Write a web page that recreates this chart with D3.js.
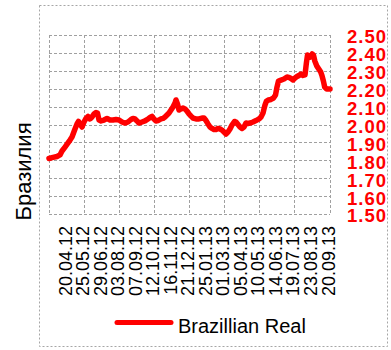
<!DOCTYPE html>
<html>
<head>
<meta charset="utf-8">
<script src="https://cdn.jsdelivr.net/npm/d3@7"></script>
<style>
  html, body { margin: 0; padding: 0; background: #fff; }
  svg { display: block; }
</style>
</head>
<body>
<svg id="chart" width="391" height="350"></svg>
<script>
// BRL exchange rate, Mar 2012 – Sep 2013
const seriesName = "Brazillian Real";
const axisTitle = "Бразилия";

const dates = [
  "2012-03-16","2012-03-24","2012-04-01","2012-04-07","2012-04-11","2012-04-17","2012-04-23","2012-04-27",
  "2012-05-01","2012-05-07","2012-05-11","2012-05-14","2012-05-17","2012-05-21","2012-05-25","2012-05-29",
  "2012-06-02","2012-06-06","2012-06-10","2012-06-14","2012-06-18","2012-06-21","2012-06-24","2012-06-28",
  "2012-07-04","2012-07-10","2012-07-16","2012-07-22","2012-07-28","2012-08-03","2012-08-09","2012-08-15",
  "2012-08-21","2012-08-27","2012-08-31","2012-09-04","2012-09-08","2012-09-12","2012-09-18","2012-09-24",
  "2012-09-30","2012-10-04","2012-10-08","2012-10-12","2012-10-16","2012-10-20","2012-10-26","2012-10-30",
  "2012-11-03","2012-11-07","2012-11-11","2012-11-15","2012-11-19","2012-11-23","2012-11-25","2012-11-28",
  "2012-12-01","2012-12-05","2012-12-09","2012-12-13","2012-12-17","2012-12-21","2012-12-25","2012-12-29",
  "2013-01-04","2013-01-10","2013-01-16","2013-01-20","2013-01-24","2013-01-28","2013-02-01","2013-02-05",
  "2013-02-09","2013-02-13","2013-02-17","2013-02-21","2013-02-25","2013-03-01","2013-03-05","2013-03-09",
  "2013-03-13","2013-03-17","2013-03-22","2013-03-25","2013-03-29","2013-04-02","2013-04-06","2013-04-10",
  "2013-04-14","2013-04-18","2013-04-22","2013-04-28","2013-05-04","2013-05-10","2013-05-14","2013-05-18",
  "2013-05-20","2013-05-22","2013-05-25","2013-05-29","2013-06-03","2013-06-08","2013-06-12","2013-06-15",
  "2013-06-18","2013-06-23","2013-06-29","2013-07-05","2013-07-09","2013-07-13","2013-07-17","2013-07-21",
  "2013-07-25","2013-07-29","2013-08-02","2013-08-06","2013-08-10","2013-08-13","2013-08-15","2013-08-20",
  "2013-08-24","2013-08-26","2013-08-28","2013-08-31","2013-09-03","2013-09-06","2013-09-08","2013-09-10",
  "2013-09-12","2013-09-15","2013-09-20"
];

const rates = [
  1.810,1.816,1.821,1.830,1.852,1.874,1.897,1.913,
  1.930,1.975,2.003,2.017,2.003,1.986,2.014,2.034,
  2.045,2.031,2.042,2.059,2.067,2.064,2.025,2.020,
  2.025,2.034,2.025,2.025,2.028,2.025,2.014,2.008,
  2.014,2.028,2.034,2.031,2.020,2.008,2.014,2.020,
  2.031,2.039,2.045,2.031,2.020,2.022,2.031,2.034,
  2.042,2.053,2.064,2.081,2.098,2.120,2.137,2.115,
  2.081,2.087,2.092,2.087,2.075,2.059,2.047,2.036,
  2.031,2.031,2.036,2.036,2.022,2.003,1.986,1.978,
  1.972,1.972,1.978,1.975,1.969,1.958,1.947,1.958,
  1.975,1.997,2.017,2.014,2.000,1.986,1.978,1.986,
  2.008,2.006,2.008,2.014,2.022,2.031,2.042,2.064,
  2.087,2.109,2.131,2.137,2.140,2.148,2.165,2.209,
  2.243,2.248,2.254,2.265,2.263,2.257,2.249,2.260,
  2.268,2.274,2.282,2.274,2.277,2.349,2.388,2.377,
  2.394,2.388,2.355,2.327,2.310,2.293,2.271,2.243,
  2.209,2.198,2.198
];

const dateLabels = [
  "20.04.12","25.05.12","29.06.12","03.08.12","07.09.12","12.10.12","16.11.12","21.12.12",
  "25.01.13","01.03.13","05.04.13","10.05.13","14.06.13","19.07.13","23.08.13","20.09.13"
];
const gridDates = ["25.05.12","03.08.12","12.10.12","21.12.12","01.03.13","10.05.13","19.07.13"];
const yTicks = [1.5,1.6,1.7,1.8,1.9,2.0,2.1,2.2,2.3,2.4,2.5];

const parseIso = d3.timeParse("%Y-%m-%d");
const parseLabel = d3.timeParse("%d.%m.%y");
const data = dates.map((d, i) => ({ date: parseIso(d), value: rates[i] }));

const svg = d3.select("#chart");
const plot = { left: 49, right: 330, top: 35, bottom: 214 };
const FONT = "'Liberation Sans', Arial, sans-serif";
const GRID = "#a0a0a0";

// outer chart frame
svg.append("rect")
  .attr("x", 39.5).attr("y", 5.5).attr("width", 348).attr("height", 341)
  .attr("fill", "none").attr("stroke", "#a6a6a6").attr("stroke-width", 1)
  .attr("stroke-dasharray", "2,2");

// the category axis is evenly spaced by label, so the last segment is compressed
const x = d3.scaleTime()
  .domain([parseIso("2012-03-16"), parseIso("2013-08-23"), parseIso("2013-09-20")])
  .range([plot.left, 311.5, plot.right]);
const y = d3.scaleLinear().domain([1.5, 2.5]).range([plot.bottom, plot.top]);

// horizontal grid
svg.append("g").selectAll("line").data(yTicks).join("line")
  .attr("x1", plot.left).attr("x2", plot.right)
  .attr("y1", d => Math.round(y(d)) + 0.5).attr("y2", d => Math.round(y(d)) + 0.5)
  .attr("stroke", GRID).attr("stroke-dasharray", "3,2");

// vertical grid + plot frame sides
const vLines = [parseIso("2012-03-16"), ...gridDates.map(parseLabel), parseIso("2013-09-20")];
svg.append("g").selectAll("line").data(vLines).join("line")
  .attr("x1", d => Math.round(x(d)) + 0.5).attr("x2", d => Math.round(x(d)) + 0.5)
  .attr("y1", plot.top).attr("y2", plot.bottom)
  .attr("stroke", GRID).attr("stroke-dasharray", "3,2");

// right value axis
const yAxis = d3.axisRight(y).tickValues(yTicks).tickFormat(d3.format(".2f")).tickSize(0).tickPadding(0);
const gy = svg.append("g").attr("transform", "translate(347,2)").call(yAxis);
gy.select(".domain").remove();
gy.selectAll("text")
  .attr("fill", "#ff0000").attr("font-family", FONT).attr("font-size", "18.5px")
  .attr("font-weight", "bold").attr("x", 0).attr("textLength", 39);

// date axis, labels rotated
const xAxis = d3.axisBottom(x).tickValues(dateLabels.map(parseLabel))
  .tickFormat(d3.timeFormat("%d.%m.%y")).tickSize(0).tickPadding(0);
const gx = svg.append("g").attr("transform", "translate(0,226)").call(xAxis);
gx.select(".domain").remove();
gx.selectAll("text")
  .attr("font-family", FONT).attr("font-size", "18px").attr("fill", "#000")
  .attr("transform", "rotate(-90)")
  .attr("text-anchor", "end")
  .attr("x", 0).attr("y", 0).attr("dy", "0.27em");

// series line
const line = d3.line().x(d => x(d.date)).y(d => y(d.value)).curve(d3.curveLinear);
svg.append("path").datum(data)
  .attr("d", line)
  .attr("fill", "none").attr("stroke", "#ff0000").attr("stroke-width", 5.5)
  .attr("stroke-linejoin", "round").attr("stroke-linecap", "round");

// axis title
svg.append("text")
  .attr("transform", "translate(30.5,171.5) rotate(-90)")
  .attr("text-anchor", "middle")
  .attr("font-family", FONT).attr("font-size", "22px").attr("fill", "#000")
  .text(axisTitle);

// legend
const lg = svg.append("g").attr("transform", "translate(0,322.5)");
lg.append("line").attr("x1", 117).attr("x2", 171).attr("y1", 0).attr("y2", 0)
  .attr("stroke", "#ff0000").attr("stroke-width", 5).attr("stroke-linecap", "round");
lg.append("text").attr("x", 178).attr("y", 10.8)
  .attr("font-family", FONT).attr("font-size", "20px").attr("fill", "#000")
  .text(seriesName);
</script>
</body>
</html>
